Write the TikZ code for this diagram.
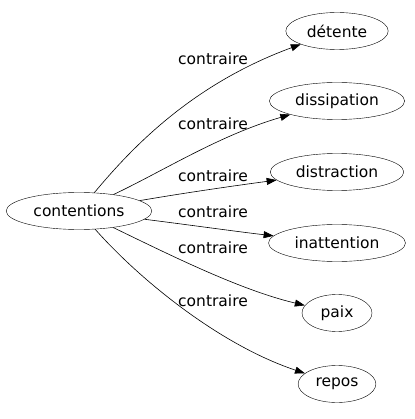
\documentclass[tikz,border=0pt]{standalone}
\usepackage{fontspec}
\setmainfont{DejaVu Sans}
\usetikzlibrary{arrows.meta,shapes.geometric}

\begin{document}
\begin{tikzpicture}[
    x=1pt, y=-1pt,
    word/.style={draw, ellipse, font=\fontsize{15.5}{17}\selectfont, inner xsep=6pt, inner ysep=2pt, minimum height=37pt},
    rel/.style={font=\fontsize{15.5}{17}\selectfont, inner sep=0pt},
    arr/.style={-{Triangle[length=10pt,width=7pt]}, semithick}
]
\useasboundingbox (0,0) rectangle (414,419);

\node[word] (cont) at (79,211) {contentions};
\node[word] (det) at (337,31) {détente};
\node[word] (diss) at (337,101) {dissipation};
\node[word] (distr) at (337,172) {distraction};
\node[word] (inatt) at (337,243) {inattention};
\node[word, minimum width=70pt] (paix) at (337,313) {paix};
\node[word] (repos) at (337,384) {repos};

\draw[arr] (cont) .. controls (130,150) and (190,85) .. (det);
\draw[arr] (cont) .. controls (165,170) and (220,135) .. (diss);
\draw[arr] (cont) .. controls (190,192) and (240,185) .. (distr);
\draw[arr] (cont) .. controls (190,225) and (240,232) .. (inatt);
\draw[arr] (cont) .. controls (170,255) and (240,290) .. (paix);
\draw[arr] (cont) .. controls (140,280) and (220,345) .. (repos);

\node[rel] (l1) at (213,59) {contraire};
\node[rel] (l2) at (213,124) {contraire};
\node[rel] (l3) at (213,176) {contraire};
\node[rel] (l4) at (213,212) {contraire};
\node[rel] (l5) at (213,248) {contraire};
\node[rel] (l6) at (213,301) {contraire};
\end{tikzpicture}
\end{document}
